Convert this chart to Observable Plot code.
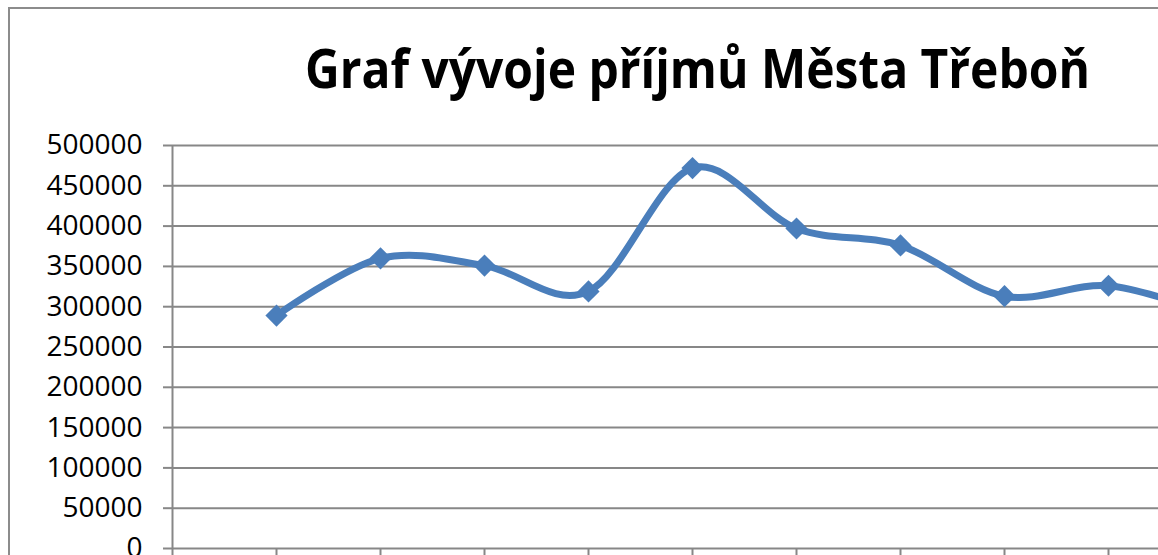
<!DOCTYPE html>
<html><head><meta charset="utf-8">
<script src="https://cdn.jsdelivr.net/npm/d3@7"></script>
<script src="https://cdn.jsdelivr.net/npm/@observablehq/plot@0.6"></script>
<style>
html,body{margin:0;padding:0;background:#fff;overflow:hidden;width:1158px;height:555px;}
#wrap{position:relative;width:1158px;height:555px;overflow:hidden;}
#border{position:absolute;left:8px;top:7px;width:1400px;height:800px;border:2px solid #8c8c8c;box-sizing:border-box;}
#title{position:absolute;left:305px;top:41px;font-family:"Open Sans",sans-serif;font-weight:700;font-size:53px;line-height:1;white-space:nowrap;transform-origin:0 0;color:#000;}
#chart{position:absolute;left:0;top:0;width:1320px;height:600px;}
#chart svg{max-width:none !important;}
</style>
</head><body>
<div id="wrap">
  <div id="border"></div>
  <div id="chart"></div>
  <div id="title">Graf vývoje příjmů Města Třeboň</div>
</div>
<script>
const slots = [1, 2, 3, 4, 5, 6, 7, 8, 9, 10];
const revenue = [289000, 360000, 351000, 319000, 472000, 397000, 376000, 313000, 326000, 290000];
const yTicks = [0, 50000, 100000, 150000, 200000, 250000, 300000, 350000, 400000, 450000, 500000];
const xTicks = [0, 1, 2, 3, 4, 5, 6, 7, 8, 9, 10, 11];

const data = slots.map((s, i) => ({slot: s, value: revenue[i]}));
const grid = "#878787";
const blue = "#4a7ebb";

const chart = Plot.plot({
  width: 1320,
  height: 600,
  marginLeft: 172,
  marginRight: 4,
  marginTop: 145,
  marginBottom: 52,
  style: {fontFamily: "'Open Sans', sans-serif", fontSize: "28px", color: "#000", background: "transparent", overflow: "visible", maxWidth: "none"},
  x: {domain: [0, 11], axis: null, label: null},
  y: {domain: [0, 500000], axis: null, label: null},
  marks: [
    Plot.ruleY(yTicks, {stroke: grid, strokeWidth: 2}),
    Plot.ruleX([0], {stroke: grid, strokeWidth: 2}),
    Plot.axisX(xTicks, {tickSize: 9, tickFormat: () => "", label: null, stroke: grid, strokeWidth: 2}),
    Plot.axisY(yTicks, {tickSize: 9, tickPadding: 21, tickFormat: d => String(d), label: null, stroke: grid, strokeWidth: 2, fill: "#000"}),
    Plot.line(data, {x: "slot", y: "value", stroke: blue, strokeWidth: 7, curve: "cardinal", strokeLinejoin: "round", strokeLinecap: "round"}),
    Plot.dot(data, {x: "slot", y: "value", symbol: "diamond2", r: 10, fill: blue, stroke: "none"})
  ]
});
chart.style.maxWidth = "none";
document.getElementById("chart").appendChild(chart);

const t = document.getElementById("title");
const w = t.getBoundingClientRect().width;
t.style.transform = `scaleX(${785 / w})`;
</script>
</body></html>
